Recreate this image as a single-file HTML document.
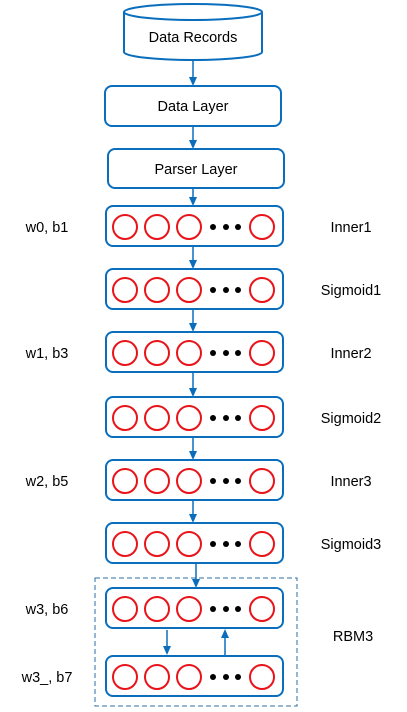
<!DOCTYPE html>
<html><head><meta charset="utf-8"><style>
html,body{margin:0;padding:0;background:#fff;width:407px;height:712px;overflow:hidden}
text{font-family:"Liberation Sans",sans-serif;font-size:14.5px;fill:#000}
</style></head><body>
<svg id="s" width="407" height="712" viewBox="0 0 407 712" xmlns="http://www.w3.org/2000/svg">
<g>
<path d="M124,12 L124,52 A69,8 0 0 0 262,52 L262,12" fill="#fff" stroke="#0a6ebd" stroke-width="2"/>
<ellipse cx="193" cy="12" rx="69" ry="8" fill="#fff" stroke="#0a6ebd" stroke-width="2"/>
<text x="193" y="42" text-anchor="middle">Data Records</text></g>
<g><rect x="105" y="86" width="176" height="40" rx="7" fill="#fff" stroke="#0a6ebd" stroke-width="2"/>
<text x="193" y="111" text-anchor="middle">Data Layer</text></g>
<g><rect x="108" y="149" width="176" height="39" rx="7" fill="#fff" stroke="#0a6ebd" stroke-width="2"/>
<text x="196" y="174" text-anchor="middle">Parser Layer</text></g>
<rect x="95" y="578" width="202" height="128" fill="none" stroke="#2e6da4" stroke-width="1" stroke-dasharray="5,3"/>
<text x="353" y="641" text-anchor="middle">RBM3</text>
</svg>
<script>
const layerNames=["Inner1","Sigmoid1","Inner2","Sigmoid2","Inner3","Sigmoid3","",""];
const leftLabels=["w0, b1","","w1, b3","","w2, b5","","w3, b6","w3_, b7"];
const layerTops=[206,269,332,397,460,523,588,656];
const s=document.getElementById('s');
const NS="http://www.w3.org/2000/svg";
function mk(t,a){const e=document.createElementNS(NS,t);for(const k in a)e.setAttribute(k,a[k]);s.appendChild(e);return e;}
layerTops.forEach((y,i)=>{
  const r=mk('rect',{x:106,y:y,width:177,height:40,rx:7,fill:'#fff',stroke:'#0a6ebd','stroke-width':2});
  
  
  const cy=y+21;
  [125,157,189,262].forEach(cx=>{
    const c=mk('circle',{cx:cx,cy:cy,r:12,fill:'none',stroke:'#e8141a','stroke-width':2});
    
    
  });
  [213,226,238].forEach(cx=>{
    const d=mk('circle',{cx:cx,cy:cy,r:3,fill:'#000'});
    
    
  });
  if(layerNames[i]){const t=mk('text',{x:351,y:cy+5,'text-anchor':'middle'});t.textContent=layerNames[i];
    
    }
  if(leftLabels[i]){const t=mk('text',{x:47,y:cy+5,'text-anchor':'middle'});t.textContent=leftLabels[i];
    
    }
});
function arrow(x,y1,y2,name){
  const dir=y2>y1?1:-1;
  const l=mk('line',{x1:x,y1:y1,x2:x,y2:y2-dir*8,stroke:'#0a6ebd','stroke-width':1.5});
  
  
  const p=mk('path',{d:`M${x-4},${y2-dir*9} L${x+4},${y2-dir*9} L${x},${y2} Z`,fill:'#0a6ebd'});
  
  
}
const arrows=[[193,61,86],[193,127,149],[193,189,206],[193,247,269],[193,310,332],[193,373,397],[193,438,460],[193,501,523],[196,564,588]];
arrows.forEach(a=>arrow(a[0],a[1],a[2],'flow-arrow'));
arrow(167,630,655,'rbm-down-arrow');
arrow(225,655,629,'rbm-up-arrow');
</script>
</body></html>
